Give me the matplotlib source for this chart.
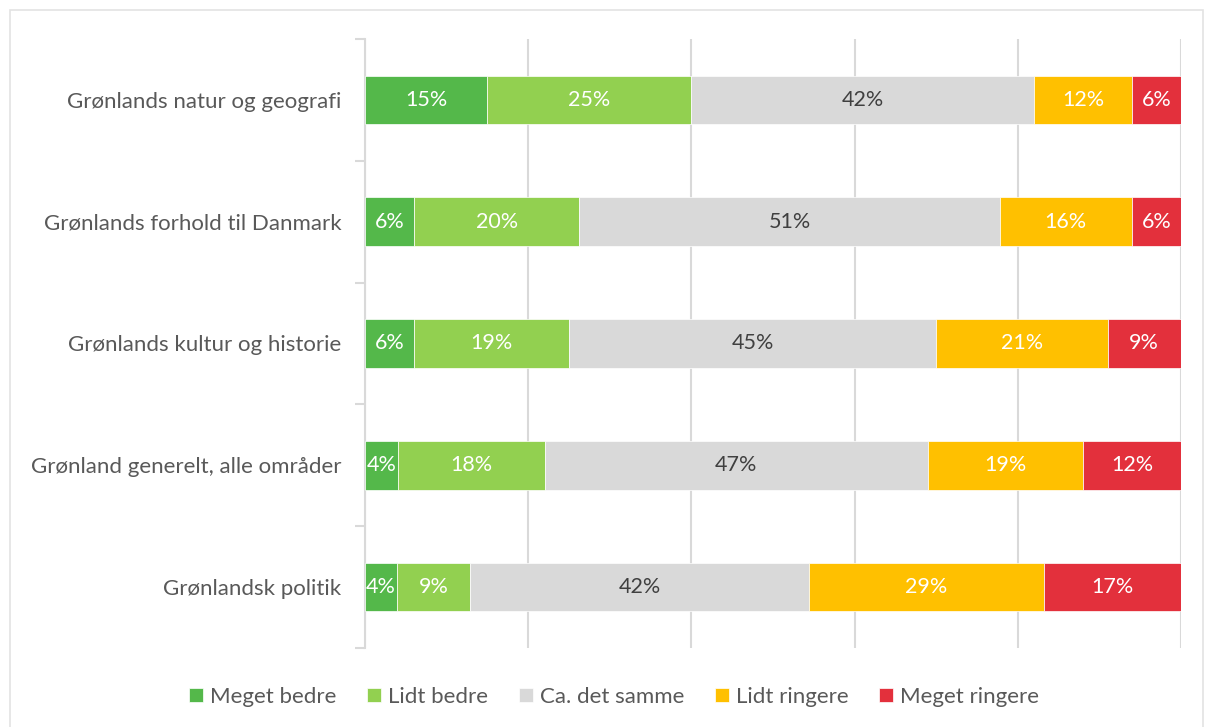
import matplotlib
matplotlib.use("Agg")
import matplotlib.pyplot as plt
from matplotlib.patches import Rectangle
import numpy as np

categories = ["Grønlands natur og geografi", "Grønlands forhold til Danmark",
              "Grønlands kultur og historie", "Grønland generelt, alle områder",
              "Grønlandsk politik"]
series_names = ["Meget bedre", "Lidt bedre", "Ca. det samme", "Lidt ringere", "Meget ringere"]
meget_bedre = [15, 6, 6, 4, 4]
lidt_bedre = [25, 20, 19, 18, 9]
ca_det_samme = [42, 51, 45, 47, 42]
lidt_ringere = [12, 16, 21, 19, 29]
meget_ringere = [6, 6, 9, 12, 17]

colors = ["#54B84A", "#92D050", "#D9D9D9", "#FFC000", "#E3303C"]
label_colors = ["white", "white", "#404040", "white", "white"]

plt.rcParams['font.family'] = ['Lato', 'DejaVu Sans']

W, H = 1206, 727
fig = plt.figure(figsize=(W / 100, H / 100), dpi=100)
# outer border
fig.patches.append(Rectangle((10 / W, -0.01), (1203 - 10) / W, (H - 10) / H + 0.01,
                             transform=fig.transFigure, fill=False,
                             edgecolor="#E3E3E3", linewidth=1.2))

ax = fig.add_axes([365 / W, 1 - 648 / H, (1181 - 365) / W, (648 - 39) / H])

data = np.array([meget_bedre, lidt_bedre, ca_det_samme, lidt_ringere, meget_ringere], dtype=float)
totals = data.sum(axis=0)
norm = data / totals * 100
n = len(categories)
y = np.arange(n)[::-1]

left = np.zeros(n)
for i, name in enumerate(series_names):
    ax.barh(y, norm[i], left=left, height=0.4, color=colors[i], label=name,
            edgecolor="white", linewidth=0.5, zorder=3)
    for j in range(n):
        ax.text(left[j] + norm[i][j] / 2, y[j], f"{int(data[i][j])}%",
                ha="center", va="center", color=label_colors[i], fontsize=15.5, zorder=4)
    left += norm[i]

ax.set_xlim(0, 100)
ax.set_ylim(-0.5, n - 0.5)
ax.set_xticks([0, 20, 40, 60, 80, 100])
ax.xaxis.grid(True, color="#D9D9D9", linewidth=1.5, zorder=0)
ax.tick_params(axis="x", length=0, labelbottom=False)
ax.set_yticks(y)
ax.set_yticklabels(categories, fontsize=16, color="#595959")
ax.set_yticks(np.arange(-0.5, n, 1), minor=True)
ax.tick_params(axis="y", which="major", length=0, pad=17)
ax.tick_params(axis="y", which="minor", length=7, color="#D9D9D9", width=1.5)
for s in ["top", "right", "bottom"]:
    ax.spines[s].set_visible(False)
ax.spines["left"].set_color("#D9D9D9")
ax.spines["left"].set_linewidth(1.5)

leg = fig.legend(loc="center", bbox_to_anchor=(614 / W, 1 - 697 / H), ncol=5,
                 frameon=False, fontsize=16, handlelength=0.63, handleheight=0.63,
                 handletextpad=0.3, columnspacing=1.4)
for t in leg.get_texts():
    t.set_color("#595959")

fig.savefig("out.png", dpi=100, facecolor="white")
